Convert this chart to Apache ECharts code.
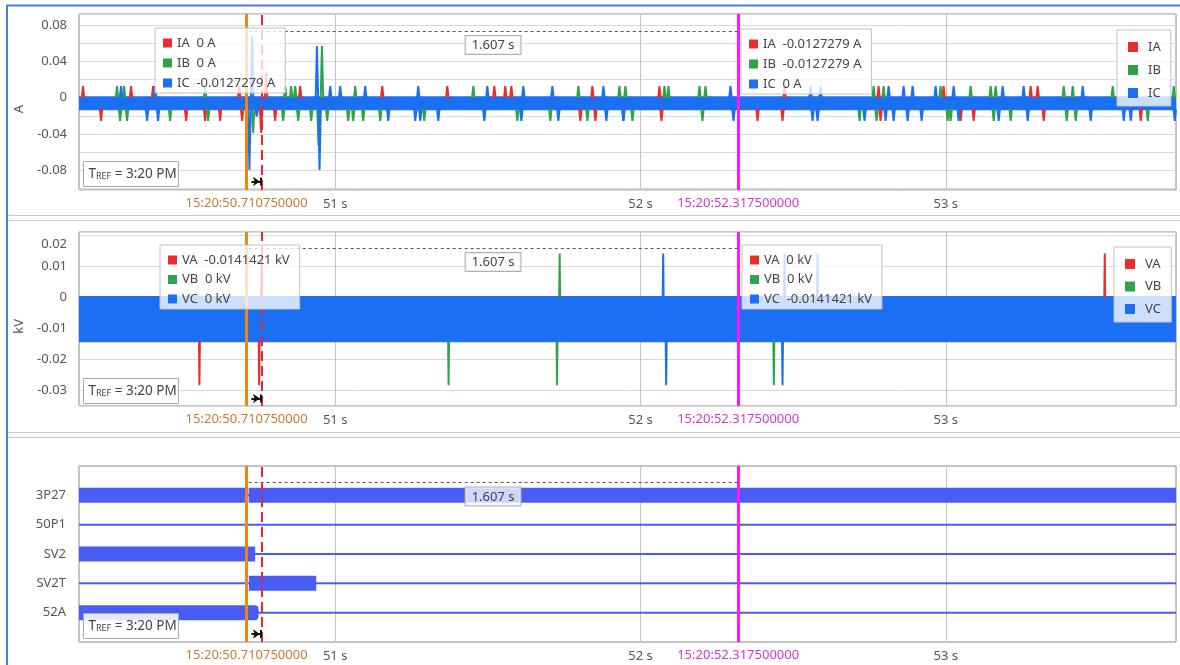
<!DOCTYPE html>
<html>
<head>
<meta charset="utf-8">
<title>Event record</title>
<script src="https://cdn.jsdelivr.net/npm/echarts@6.0.0/dist/echarts.min.js"></script>
<style>
    html, body { margin: 0; padding: 0; background: #fff; }
    #chart { width: 1180px; height: 665px; }
</style>
</head>
<body>
<div id="chart"></div>
<script>
// seconds after 15:20
var timeRange = [50.161, 53.754];
var cursorTimes = [50.71075, 52.3175];
var cursorLabels = ['15:20:50.710750000', '15:20:52.317500000'];
var triggerTime = 50.7556;
var deltaLabel = '1.607 s';

// analog channels: noise band + samples that leave the band [time, value]
var currentRange = [-0.102, 0.0925];
var currentStep = 0.0127279;
var currentBand = [0.0016, -0.0139];
var iaSpikes = [
    [50.1742, 0.0127], [50.2332, -0.0255], [50.3315, 0.0127], [50.4036, 0.0127], [50.5118, -0.0255],
    [50.5741, -0.0255], [50.6232, -0.0255], [50.6856, 0.0127], [50.6954, -0.0255], [50.7575, -0.039],
    [50.7740, 0.028], [50.8035, -0.0255], [50.8854, 0.0127], [51.1542, 0.0127], [51.3673, 0.0127],
    [51.5213, 0.0127], [51.5573, 0.0127], [51.5770, 0.0127], [51.8032, -0.0255], [51.8425, 0.0127],
    [51.8523, -0.0255], [52.0621, 0.0127], [52.0687, -0.0255], [52.3833, -0.0255], [52.4652, -0.0255],
    [52.4720, 0.0127], [52.7799, 0.0127], [52.7864, -0.0255], [52.9929, 0.0127], [53.0487, -0.0255],
    [53.0913, -0.0255], [53.2781, 0.0127], [53.3010, 0.0127], [53.3207, -0.0255], [53.6386, -0.0255]
];
var ibSpikes = [
    [50.2856, 0.0127], [50.2955, -0.0255], [50.3086, 0.0127], [50.3184, -0.0255], [50.4594, -0.0255],
    [50.5741, 0.0127], [50.5839, -0.0255], [50.7314, -0.039], [50.8297, -0.0255], [50.8363, 0.0127],
    [50.8559, 0.0127], [50.8691, 0.0127], [50.8789, -0.0255], [50.9215, -0.0255], [50.9455, -0.053],
    [50.9567, 0.057], [50.9739, -0.0255], [51.0428, -0.0255], [51.0592, -0.0255], [51.0657, 0.0127],
    [51.0919, -0.0255], [51.1477, -0.0255], [51.2919, -0.0255], [51.4525, 0.0127], [51.5967, -0.0255],
    [51.7048, -0.0255], [51.7966, 0.0127], [51.8261, -0.0255], [51.9310, 0.0127], [51.9441, -0.0255],
    [51.9507, 0.0127], [51.9736, -0.0255], [52.0785, 0.0127], [52.0916, 0.0127], [52.1932, 0.0127],
    [52.2030, -0.0255], [52.2129, 0.0127], [52.7176, -0.0255], [52.7635, 0.0127], [52.7733, -0.0255],
    [52.7963, 0.0127], [52.9831, 0.0127], [53.0061, -0.0255], [53.0159, -0.0255], [53.0814, 0.0127],
    [53.1470, 0.0127], [53.1569, -0.0255], [53.1634, 0.0127], [53.2125, -0.0255], [53.3863, 0.0127],
    [53.3961, -0.0255], [53.4158, 0.0127], [53.4256, -0.0255], [53.5468, 0.0127], [53.6616, -0.0255],
    [53.7468, 0.0127]
];
var icSpikes = [
    [50.2988, 0.0127], [50.3840, -0.0255], [50.4102, 0.0127], [50.4200, -0.0255], [50.7192, -0.08],
    [50.7281, 0.068], [50.7432, -0.021], [50.9403, 0.057], [50.9488, -0.08], [50.9838, 0.0127],
    [51.0165, 0.0127], [51.0985, 0.0127], [51.1739, -0.0255], [51.2624, -0.0255], [51.2722, 0.0127],
    [51.2788, -0.0255], [51.3378, -0.0255], [51.4885, -0.0255], [51.4984, 0.0127], [51.6098, -0.0255],
    [51.6163, 0.0127], [51.7114, 0.0127], [51.7311, -0.0255], [51.8786, 0.0127], [51.8884, -0.0255],
    [51.9441, -0.0255], [52.2948, 0.0127], [52.3046, -0.0255], [52.5570, 0.0127], [52.5636, -0.0255],
    [52.5800, -0.0255], [52.5898, 0.0127], [52.7340, -0.0255], [52.8028, -0.0255], [52.8127, 0.0127],
    [52.8291, -0.0255], [52.8618, 0.0127], [52.8750, -0.0255], [52.8913, 0.0127], [52.9208, -0.0255],
    [52.9667, 0.0127], [53.0257, 0.0127], [53.0421, -0.0255], [53.1732, -0.0255], [53.1863, 0.0127],
    [53.2551, 0.0127], [53.2683, -0.0255], [53.4485, 0.0127], [53.4747, -0.0255], [53.5829, -0.0255],
    [53.6058, -0.0255], [53.7500, -0.0255]
];

var voltageRange = [-0.035, 0.021];
var voltageStep = 0.0141421;
var voltageBand = [0.0004, -0.0145];
var vaSpikes = [[50.5554, -0.0283], [50.7511, -0.0283], [50.7592, 0.0141], [53.5207, 0.0141]];
var vbSpikes = [[51.3715, -0.0283], [51.7268, -0.0283], [51.7353, 0.0141], [52.4368, -0.0283]];
var vcSpikes = [[52.0743, 0.0141], [52.0842, -0.0283], [52.4652, -0.0283], [52.4718, 0.0141], [52.5800, 0.0141]];

var currentCursorValues = [
    { IA: '0 A', IB: '0 A', IC: '-0.0127279 A' },
    { IA: '-0.0127279 A', IB: '-0.0127279 A', IC: '0 A' }
];
var voltageCursorValues = [
    { VA: '-0.0141421 kV', VB: '0 kV', VC: '0 kV' },
    { VA: '0 kV', VB: '0 kV', VC: '-0.0141421 kV' }
];

// digital channels, top to bottom, with their "on" spans
var digitalNames = ['3P27', '50P1', 'SV2', 'SV2T', '52A'];
var digitalOn = [
    [[50.161, 50.7155], [50.7175, 53.754]],
    [],
    [[50.161, 50.738]],
    [[50.7173, 50.938]],
    [[50.161, 50.749]]
];

var RED = '#ec2d2d', GREEN = '#2ea34a', BLUE = '#1a6ff2', DIGITAL = '#4a5cf6';
var ORANGE = '#ee8613', ORANGE_TEXT = '#c87a31', MAGENTA = '#ff17ff', MAGENTA_TEXT = '#d435d4';
var FONT = 'Noto Sans';

function isMultiple(v, step) {
    var r = v / step;
    return Math.abs(r - Math.round(r)) < 1e-6;
}

function fmt(v) {
    return String(parseFloat(v.toFixed(3)));
}

// every excursion is its own little segment leaving the band edge
function spikeData(spikes, step, halfWidth) {
    var data = [];
    spikes.forEach(function (s) {
        var base = s[1] > 0 ? 0 : -step;
        data.push([s[0] - halfWidth, base]);
        data.push([s[0], s[1]]);
        data.push([s[0] + halfWidth, base]);
        data.push([s[0] + halfWidth, null]);
    });
    return data;
}

function cursorMarks(dashY, arrowY) {
    return {
        silent: true,
        animation: false,
        symbol: ['none', 'none'],
        label: { show: false },
        data: [
            {
                xAxis: cursorTimes[0],
                lineStyle: { color: ORANGE, width: 3, type: 'solid' },
                label: { show: true, position: 'start', distance: 7, formatter: cursorLabels[0],
                    color: ORANGE_TEXT, fontSize: 13, fontFamily: FONT }
            },
            { xAxis: triggerTime, lineStyle: { color: '#e8262b', width: 2, type: [10, 5] } },
            {
                xAxis: cursorTimes[1],
                lineStyle: { color: MAGENTA, width: 3, type: 'solid' },
                label: { show: true, position: 'start', distance: 7, formatter: cursorLabels[1],
                    color: MAGENTA_TEXT, fontSize: 13, fontFamily: FONT }
            },
            [
                {
                    xAxis: cursorTimes[0] + 0.006, y: dashY,
                    lineStyle: { color: '#555', width: 1, type: [3, 3] },
                    label: {
                        show: true, position: 'insideMiddleBottom', distance: 5, formatter: deltaLabel,
                        color: '#444', fontSize: 13, fontFamily: FONT,
                        backgroundColor: 'rgba(255,255,255,0.75)', borderColor: '#b0b0b0', borderWidth: 1,
                        padding: [3, 6, 2, 6]
                    }
                },
                { xAxis: cursorTimes[1], y: dashY }
            ],
            [
                { xAxis: cursorTimes[0] + 0.015, y: arrowY, lineStyle: { color: '#111', width: 2, type: 'solid' } },
                { xAxis: triggerTime - 0.002, y: arrowY, symbol: 'arrow', symbolSize: 7 }
            ],
            [
                { xAxis: triggerTime, y: arrowY - 4, lineStyle: { color: '#111', width: 2, type: 'solid' } },
                { xAxis: triggerTime, y: arrowY + 4 }
            ]
        ]
    };
}

function analogSeries(name, color, spikes, step, axis, width, halfWidth, marks) {
    return {
        name: name,
        type: 'line',
        xAxisIndex: axis,
        yAxisIndex: axis,
        color: color,
        data: spikeData(spikes, step, halfWidth),
        connectNulls: false,
        symbol: 'none',
        showSymbol: false,
        clip: false,
        silent: true,
        animation: false,
        lineStyle: { color: color, width: width },
        emphasis: { disabled: true },
        markLine: marks
    };
}

function bandSeries(axis, band) {
    return {
        type: 'custom',
        xAxisIndex: axis,
        yAxisIndex: axis,
        z: 1,
        silent: true,
        animation: false,
        encode: { x: [0, 1], y: [2, 3] },
        data: [[timeRange[0], timeRange[1], band[0], band[1]]],
        renderItem: function (params, api) {
            var a = api.coord([api.value(0), api.value(2)]);
            var b = api.coord([api.value(1), api.value(3)]);
            return {
                type: 'rect',
                shape: { x: a[0], y: a[1], width: b[0] - a[0], height: b[1] - a[1] },
                style: { fill: BLUE }
            };
        }
    };
}

function makeXAxis(gridIndex) {
    return {
        type: 'value',
        gridIndex: gridIndex,
        min: timeRange[0],
        max: timeRange[1],
        minInterval: 1,
        maxInterval: 1,
        axisLine: { show: false },
        axisTick: { show: false },
        axisLabel: {
            color: '#555', fontSize: 13, fontFamily: FONT, margin: 8,
            formatter: function (v) { return isMultiple(v, 1) ? Math.round(v) + ' s' : ''; }
        },
        splitLine: { show: true, lineStyle: { color: '#c4c4c4', width: 1 } }
    };
}

function makeAnalogYAxis(gridIndex, range, step, labelStep, unit, namePad) {
    return {
        type: 'value',
        gridIndex: gridIndex,
        min: range[0],
        max: range[1],
        minInterval: step,
        maxInterval: step,
        name: unit,
        nameLocation: 'middle',
        nameGap: 52,
        nameTextStyle: { color: '#555', fontSize: 13, fontFamily: FONT, align: 'right', padding: [0, namePad, 0, 0] },
        axisLine: { show: false },
        axisTick: { show: false },
        axisLabel: {
            color: '#555', fontSize: 13, fontFamily: FONT, margin: 12,
            formatter: function (v) {
                if (!isMultiple(v, labelStep)) return '';
                // the top label sits a little lower, clear of the frame
                return range[1] - v < step * 0.2 ? '{low|' + fmt(v) + '}' : fmt(v);
            },
            rich: { low: { color: '#555', fontSize: 13, fontFamily: FONT, padding: [18, 0, 0, 0] } }
        },
        splitLine: { show: true, lineStyle: { color: '#d9d9d9', width: 1 } }
    };
}

function cursorLegend(left, top, names, values, gap) {
    return {
        left: left,
        top: top,
        orient: 'vertical',
        data: names,
        selectedMode: false,
        icon: 'rect',
        itemWidth: 9,
        itemHeight: 9,
        itemGap: gap,
        padding: [8, 10, 3, 8],
        backgroundColor: 'rgba(255,255,255,0.78)',
        borderColor: '#c2c2c2',
        borderWidth: 1,
        itemStyle: { borderWidth: 0 },
        textStyle: { color: '#444', fontSize: 13, lineHeight: 14, fontFamily: FONT },
        formatter: function (name) { return name + '  ' + values[name]; },
        z: 20
    };
}

function nameLegend(left, top, names, gap) {
    return {
        left: left,
        top: top,
        orient: 'vertical',
        data: names,
        selectedMode: false,
        icon: 'rect',
        itemWidth: 10,
        itemHeight: 10,
        itemGap: gap,
        padding: [10, 10, 6, 11],
        backgroundColor: 'rgba(255,255,255,0.78)',
        borderColor: '#c2c2c2',
        borderWidth: 1,
        itemStyle: { borderWidth: 0 },
        textStyle: { color: '#444', fontSize: 13, lineHeight: 14, fontFamily: FONT, padding: [0, 0, 0, 5] },
        z: 20
    };
}

function trefLabel(top) {
    return {
        type: 'group',
        left: 83,
        top: top,
        z: 20,
        children: [
            {
                type: 'rect',
                z: 20,
                shape: { x: 0, y: 0, width: 95, height: 25 },
                style: { fill: 'rgba(255,255,255,0.85)', stroke: '#a8a8a8', lineWidth: 1 }
            },
            {
                type: 'text',
                z: 21,
                x: 5,
                y: 13,
                style: {
                    text: '{t|T}{s|REF}{t| = 3:20 PM}',
                    verticalAlign: 'middle',
                    rich: {
                        t: { fontSize: 13.5, fill: '#444', fontFamily: FONT },
                        s: { fontSize: 9, fill: '#444', fontFamily: FONT, verticalAlign: 'bottom', padding: [0, 0, 1, 0] }
                    }
                }
            }
        ]
    };
}

function separator(y) {
    return {
        type: 'line',
        shape: { x1: 8, y1: y, x2: 1180, y2: y },
        style: { stroke: '#c8c8c8', lineWidth: 1 },
        silent: true
    };
}

// digital traces
var digitalSeries = [];
var digitalBars = [];
digitalNames.forEach(function (name, i) {
    var level = digitalNames.length - i;
    digitalSeries.push({
        name: name,
        type: 'line',
        xAxisIndex: 2,
        yAxisIndex: 2,
        color: DIGITAL,
        data: [[timeRange[0], level], [timeRange[1], level]],
        symbol: 'none',
        showSymbol: false,
        clip: false,
        silent: true,
        animation: false,
        lineStyle: { color: DIGITAL, width: 2 },
        markLine: i === 0 ? cursorMarks(482.5, 634) : undefined
    });
    digitalOn[i].forEach(function (span) {
        digitalBars.push([span[0], span[1], level]);
    });
});
digitalSeries.push({
    type: 'custom',
    xAxisIndex: 2,
    yAxisIndex: 2,
    silent: true,
    animation: false,
    encode: { x: [0, 1], y: 2 },
    data: digitalBars,
    renderItem: function (params, api) {
        var a = api.coord([api.value(0), api.value(2)]);
        var b = api.coord([api.value(1), api.value(2)]);
        return {
            type: 'rect',
            shape: { x: a[0], y: a[1] - 7.5, width: b[0] - a[0], height: 15, r: api.value(2) === 1 ? [0, 4, 4, 0] : 0 },
            style: { fill: DIGITAL }
        };
    }
});

var chart = echarts.init(document.getElementById('chart'));

chart.setOption({
    animation: false,
    backgroundColor: '#fff',
    textStyle: { fontFamily: FONT },
    grid: [
        { left: 79, top: 14, width: 1097, height: 176, show: true, borderColor: '#8a8a8a', borderWidth: 1 },
        { left: 79, top: 232, width: 1097, height: 174, show: true, borderColor: '#8a8a8a', borderWidth: 1 },
        { left: 79, top: 466, width: 1097, height: 176, show: true, borderColor: '#8a8a8a', borderWidth: 1 }
    ],
    xAxis: [makeXAxis(0), makeXAxis(1), makeXAxis(2)],
    yAxis: [
        makeAnalogYAxis(0, currentRange, 0.02, 0.04, 'A', 3),
        makeAnalogYAxis(1, voltageRange, 0.01, 0.01, 'kV', 0),
        {
            type: 'value',
            gridIndex: 2,
            min: 0,
            max: digitalNames.length + 1,
            interval: 1,
            axisLine: { show: false },
            axisTick: { show: false },
            splitLine: { show: false },
            axisLabel: {
                color: '#555', fontSize: 13, fontFamily: FONT, margin: 13,
                formatter: function (v) {
                    var i = digitalNames.length - v;
                    return (v >= 1 && v <= digitalNames.length) ? digitalNames[i] : '';
                }
            }
        }
    ],
    legend: [
        cursorLegend(155, 28, ['IA', 'IB', 'IC'], currentCursorValues[0], 6),
        cursorLegend(741, 29, ['IA', 'IB', 'IC'], currentCursorValues[1], 6),
        cursorLegend(160, 245, ['VA', 'VB', 'VC'], voltageCursorValues[0], 5.5),
        cursorLegend(742, 245, ['VA', 'VB', 'VC'], voltageCursorValues[1], 5.5),
        nameLegend(1117, 30, ['IA', 'IB', 'IC'], 9),
        nameLegend(1114, 247, ['VA', 'VB', 'VC'], 8.5)
    ],
    graphic: [
        {
            type: 'polyline',
            shape: { points: [[7, 665], [7, 5.5], [1180, 5.5]] },
            style: { stroke: '#4a7dd6', lineWidth: 2, fill: 'none' },
            silent: true
        },
        separator(215.5),
        separator(220.5),
        separator(432.5),
        separator(437.5),
        trefLabel(161),
        trefLabel(378),
        trefLabel(613)
    ],
    series: [
        bandSeries(0, currentBand),
        analogSeries('IA', RED, iaSpikes, currentStep, 0, 2, 0.004),
        analogSeries('IB', GREEN, ibSpikes, currentStep, 0, 2, 0.004),
        analogSeries('IC', BLUE, icSpikes, currentStep, 0, 2, 0.004, cursorMarks(31, 181.5)),
        bandSeries(1, voltageBand),
        analogSeries('VA', RED, vaSpikes, voltageStep, 1, 2, 0.0015),
        analogSeries('VB', GREEN, vbSpikes, voltageStep, 1, 2, 0.0015),
        analogSeries('VC', BLUE, vcSpikes, voltageStep, 1, 2, 0.0015, cursorMarks(248, 398.5))
    ].concat(digitalSeries)
});
</script>
</body>
</html>
